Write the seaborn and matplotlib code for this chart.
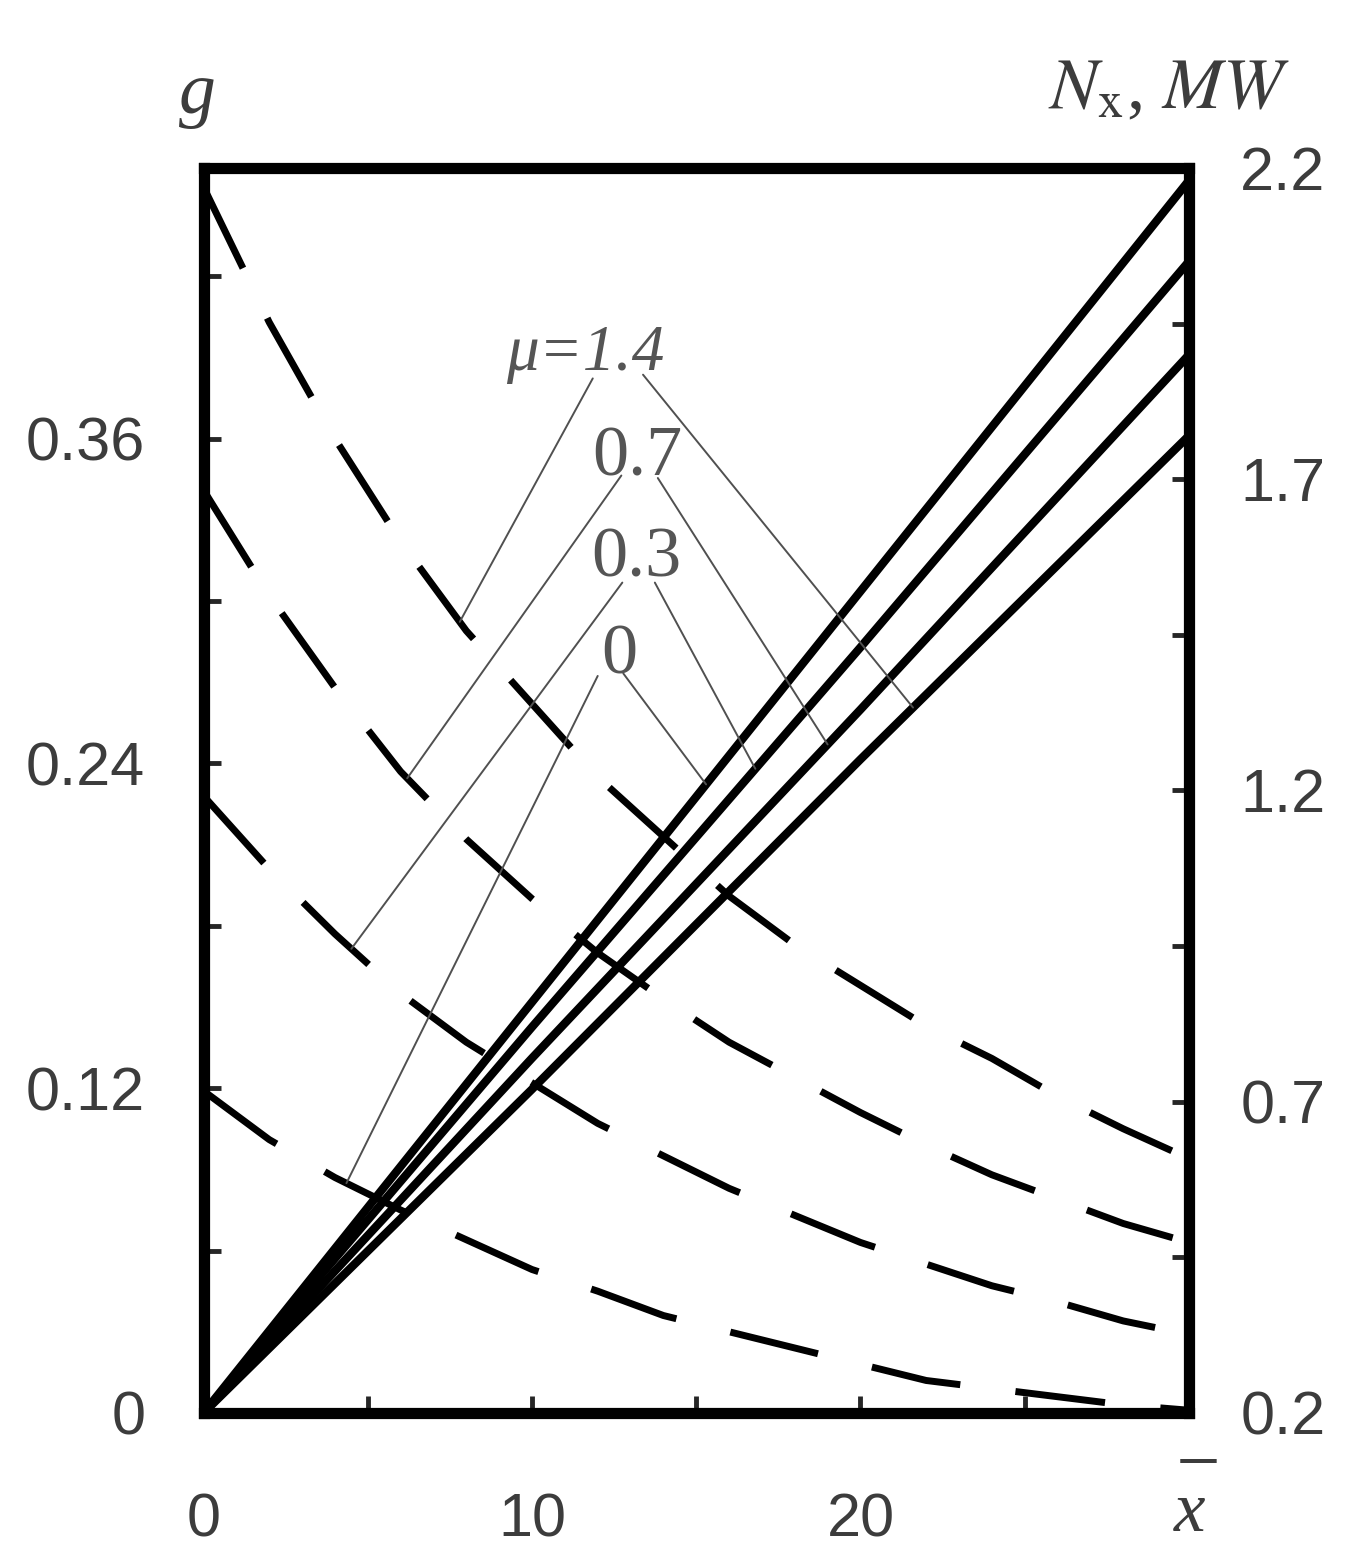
import numpy as np
import matplotlib
matplotlib.use("Agg")
import matplotlib.pyplot as plt
import seaborn as sns

# g (left axis) versus x-bar, one dashed curve per mu
x_g = [0, 2, 4, 6, 8, 10, 12, 14, 16, 18, 20, 22, 24, 26, 28, 30]
g_mu14 = [0.453, 0.403, 0.360, 0.322, 0.289, 0.262, 0.235, 0.213, 0.191, 0.173,
          0.158, 0.143, 0.131, 0.117, 0.105, 0.094]
g_mu07 = [0.341, 0.302, 0.268, 0.237, 0.212, 0.190, 0.170, 0.153, 0.137, 0.124,
          0.111, 0.099, 0.088, 0.079, 0.070, 0.063]
g_mu03 = [0.228, 0.201, 0.177, 0.155, 0.137, 0.122, 0.107, 0.095, 0.083, 0.073,
          0.063, 0.055, 0.047, 0.041, 0.034, 0.029]
g_mu0 = [0.119, 0.101, 0.087, 0.075, 0.064, 0.053, 0.045, 0.036, 0.030, 0.024,
         0.018, 0.012, 0.009, 0.006, 0.003, 0.001]

# N_x, MW (right axis) versus x-bar, solid lines
x_n = [0, 10, 20, 30]
n_mu0 = [0.2, 0.86, 1.52, 2.18]
n_mu03 = [0.2, 0.82, 1.43, 2.05]
n_mu07 = [0.2, 0.77, 1.33, 1.90]
n_mu14 = [0.2, 0.72, 1.25, 1.77]

mu_labels = ["μ=1.4", "0.7", "0.3", "0"]
g_curves = [g_mu14, g_mu07, g_mu03, g_mu0]
n_curves = [n_mu14, n_mu07, n_mu03, n_mu0]
# where each leader line touches its curve (x-bar)
leader_x_g = [7.8, 6.2, 4.5, 4.35]
leader_x_n = [21.6, 19.0, 16.8, 15.3]

sns.set_theme(style="white")
plt.rcParams['font.family'] = ['Liberation Sans', 'DejaVu Sans']
plt.rcParams['mathtext.fontset'] = 'stix'

fig = plt.figure(figsize=(13.56, 15.63), dpi=100)
ax = fig.add_axes([0.1501, 0.0960, 0.7267, 0.7965])
ax2 = ax.twinx()

for g in g_curves:
    sns.lineplot(x=x_g, y=g, ax=ax, color='black', lw=5, linestyle=(0, (13, 8)))
for n in n_curves:
    sns.lineplot(x=x_n, y=n, ax=ax2, color='black', lw=6)

ax.set_xlim(0, 30)
ax.set_ylim(0, 0.46)
ax2.set_ylim(0.2, 2.2)
for a in (ax, ax2):
    a.set_xlabel('')
    a.set_ylabel('')
    for s in a.spines.values():
        s.set_linewidth(8)
        s.set_color('black')

lab_col = '#3c3c3c'
ax.set_xticks([0, 10, 20], labels=['0', '10', '20'])
ax.set_xticks([5, 15, 25], minor=True)
ax.set_yticks([0, 0.12, 0.24, 0.36], labels=['0', '0.12', '0.24', '0.36'])
ax.set_yticks([0.06, 0.18, 0.30, 0.42], minor=True)
ax2.set_yticks([0.2, 0.7, 1.2, 1.7, 2.2], labels=['0.2', '0.7', '1.2', '1.7', '2.2'])
ax2.set_yticks([0.45, 0.95, 1.45, 1.95], minor=True)

ax.tick_params(axis='x', which='both', direction='in', length=12, width=3.5,
               bottom=True, top=False, pad=57, labelsize=44, labelcolor=lab_col)
ax.tick_params(axis='y', which='both', direction='in', length=12, width=3.5,
               left=True, right=False, pad=42, labelsize=44, labelcolor=lab_col)
ax2.tick_params(axis='y', which='both', direction='in', length=12, width=3.5,
                right=True, left=False, pad=37, labelsize=44, labelcolor=lab_col)

# curve labels with leader lines
txt_col = '#555555'
label_pos = [(0.387, 0.838), (0.440, 0.753), (0.439, 0.672), (0.422, 0.594)]
start_left = [(0.395, 0.831), (0.424, 0.753), (0.425, 0.667), (0.400, 0.592)]
start_right = [(0.446, 0.834), (0.461, 0.751), (0.458, 0.667), (0.426, 0.594)]
for i, lab in enumerate(mu_labels):
    style = 'italic' if i == 0 else 'normal'
    size = 47 if i == 0 else 52
    ax.text(*label_pos[i], lab, transform=ax.transAxes, ha='center', va='baseline',
            fontsize=size, style=style, color=txt_col,
            family=['Liberation Serif', 'DejaVu Serif'])
    xe = leader_x_g[i]
    ax.annotate('', xy=(xe, np.interp(xe, x_g, g_curves[i])), xycoords='data',
                xytext=start_left[i], textcoords='axes fraction',
                arrowprops=dict(arrowstyle='-', color='#505050', lw=1.4,
                                shrinkA=0, shrinkB=0))
    xe = leader_x_n[i]
    ax2.annotate('', xy=(xe, np.interp(xe, x_n, n_curves[i])), xycoords='data',
                 xytext=start_right[i], textcoords='axes fraction',
                 arrowprops=dict(arrowstyle='-', color='#505050', lw=1.4,
                                 shrinkA=0, shrinkB=0))

# axis titles
serif = ['Liberation Serif', 'DejaVu Serif']
fig.text(197 / 1356, 1 - 113 / 1563, 'g', family=serif, style='italic',
         fontsize=53, ha='center', va='baseline', color=lab_col)
fig.text(1290 / 1356, 1 - 108 / 1563, r'$N_{\mathrm{x}}$, $MW$', family=serif,
         fontsize=52, ha='right', va='baseline', color=lab_col)
# x with an overbar, as one text block
fig.text(1190 / 1356, 1 - 1531 / 1563, ' –\nx', family=serif, style='italic',
         fontsize=51, ha='center', va='baseline', ma='center', linespacing=0.77,
         color=lab_col)

fig.savefig('out.png', dpi=100, facecolor='white')
